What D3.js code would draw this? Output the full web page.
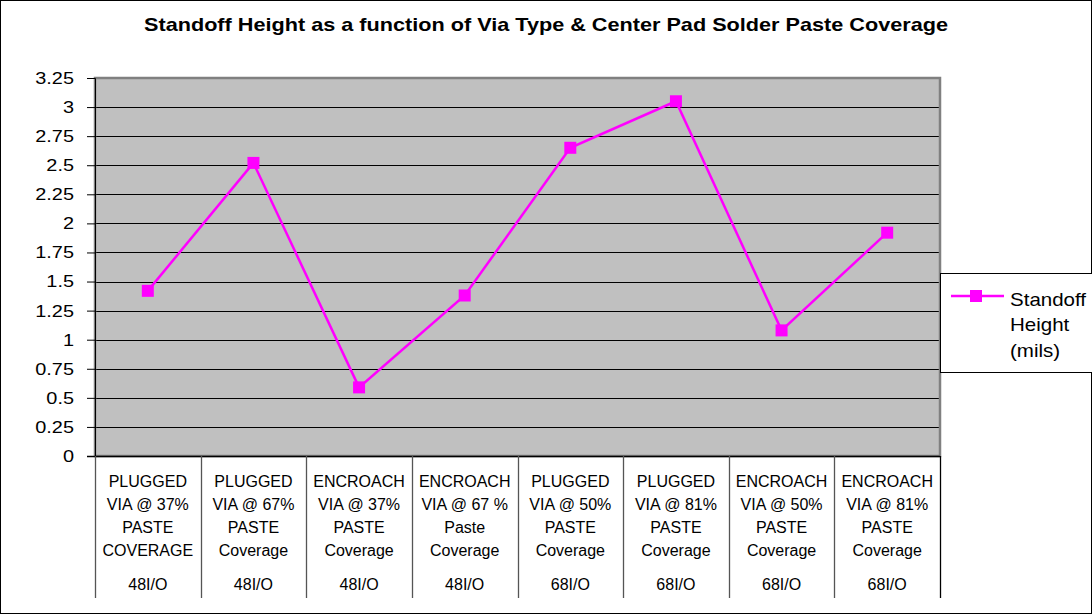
<!DOCTYPE html>
<html><head><meta charset="utf-8">
<script src="https://cdn.jsdelivr.net/npm/d3@7"></script>
<style>body{margin:0;background:#fff}svg{display:block;font-family:"Liberation Sans",Arial,sans-serif}</style>
</head><body><svg id="c" width="1092" height="614"></svg>
<script>
const categories = [
  ["PLUGGED","VIA @ 37%","PASTE","COVERAGE"],
  ["PLUGGED","VIA @ 67%","PASTE","Coverage"],
  ["ENCROACH","VIA @ 37%","PASTE","Coverage"],
  ["ENCROACH","VIA @ 67 %","Paste","Coverage"],
  ["PLUGGED","VIA @ 50%","PASTE","Coverage"],
  ["PLUGGED","VIA @ 81%","PASTE","Coverage"],
  ["ENCROACH","VIA @ 50%","PASTE","Coverage"],
  ["ENCROACH","VIA @ 81%","PASTE","Coverage"]
];
const groups = ["48I/O","48I/O","48I/O","48I/O","68I/O","68I/O","68I/O","68I/O"];
const values = [1.42, 2.52, 0.59, 1.38, 2.65, 3.05, 1.08, 1.92];
const yTicks = [0,0.25,0.5,0.75,1,1.25,1.5,1.75,2,2.25,2.5,2.75,3,3.25];
const seriesName = ["Standoff","Height","(mils)"];
const title = "Standoff Height as a function of Via Type & Center Pad Solder Paste Coverage";

function stretch(sel, f){
  sel.each(function(){
    const w = this.getComputedTextLength();
    d3.select(this).attr("textLength", w*f).attr("lengthAdjust","spacingAndGlyphs");
  });
}

const svg = d3.select("#c");
const L=95, R=940, T=78, B=456;
svg.append("rect").attr("x",0.5).attr("y",0.5).attr("width",1091).attr("height",613).attr("fill","#fff").attr("stroke","#000");
svg.append("text").attr("x",546).attr("y",31).attr("text-anchor","middle").attr("font-weight","bold").attr("font-size",18.5)
  .text(title).attr("textLength",804).attr("lengthAdjust","spacingAndGlyphs");

const x = d3.scaleBand().domain(d3.range(values.length)).range([L,R]);
const y = d3.scaleLinear().domain([0,3.25]).range([B,T]);

svg.append("rect").attr("x",L).attr("y",T).attr("width",R-L).attr("height",B-T).attr("fill","#c0c0c0");
svg.append("g").selectAll("line").data(yTicks.filter(d=>d>0)).join("line")
  .attr("x1",L).attr("x2",R).attr("y1",d=>Math.round(y(d))+0.5).attr("y2",d=>Math.round(y(d))+0.5).attr("stroke","#000");
svg.append("rect").attr("x",L).attr("y",T).attr("width",R-L).attr("height",B-T).attr("fill","none").attr("stroke","#808080").attr("stroke-width",2.5);

const ya = svg.append("g").attr("transform",`translate(${L},0)`).call(d3.axisLeft(y).tickValues(yTicks).tickSize(8).tickPadding(13).tickFormat(d=>String(d)));
ya.select(".domain").attr("stroke","#000");
ya.selectAll(".tick line").attr("stroke","#000");
ya.selectAll("text").attr("font-size",17).attr("fill","#000").attr("font-family","Liberation Sans, Arial, sans-serif");
stretch(ya.selectAll("text"), 1.17);

// bottom axis line
svg.append("line").attr("x1",L-8).attr("x2",R).attr("y1",B+0.5).attr("y2",B+0.5).attr("stroke","#000").attr("stroke-width",1.5);
// category dividers
const divs = d3.range(values.length+1).map(i=> i<values.length ? x(i) : R);
svg.append("g").selectAll("line").data(divs).join("line")
  .attr("x1",d=>Math.round(d)+0.5).attr("x2",d=>Math.round(d)+0.5).attr("y1",B).attr("y2",598)
  .attr("stroke",(d,i)=> i===values.length? "#000":"#555").attr("stroke-width",1.3);

const cg = svg.append("g").attr("font-size",16).attr("text-anchor","middle");
categories.forEach((lines,i)=>{
  const cx = x(i)+x.bandwidth()/2;
  lines.forEach((t,j)=>cg.append("text").attr("x",cx).attr("y",487+j*23).text(t));
  cg.append("text").attr("x",cx).attr("y",590).text(groups[i]);
});

const line = d3.line().x((d,i)=>x(i)+x.bandwidth()/2).y(d=>y(d));
svg.append("path").datum(values).attr("d",line).attr("fill","none").attr("stroke","#ff00ff").attr("stroke-width",2.5);
svg.append("g").selectAll("rect").data(values).join("rect")
  .attr("x",(d,i)=>x(i)+x.bandwidth()/2-6).attr("y",d=>y(d)-6).attr("width",12).attr("height",12).attr("fill","#ff00ff");

// legend
const lg = svg.append("g");
lg.append("rect").attr("x",940.5).attr("y",273.5).attr("width",160).attr("height",99).attr("fill","#fff").attr("stroke","#000");
lg.append("line").attr("x1",951).attr("x2",1004).attr("y1",296).attr("y2",296).attr("stroke","#ff00ff").attr("stroke-width",2.5);
lg.append("rect").attr("x",970).attr("y",290).attr("width",12).attr("height",12).attr("fill","#ff00ff");
const lt = lg.selectAll("text.l").data(seriesName).join("text").attr("class","l")
  .attr("x",1010).attr("y",(d,j)=>305.5+j*25.5).attr("font-size",19).text(d=>d);
stretch(lt, 1.08);
</script></body></html>
